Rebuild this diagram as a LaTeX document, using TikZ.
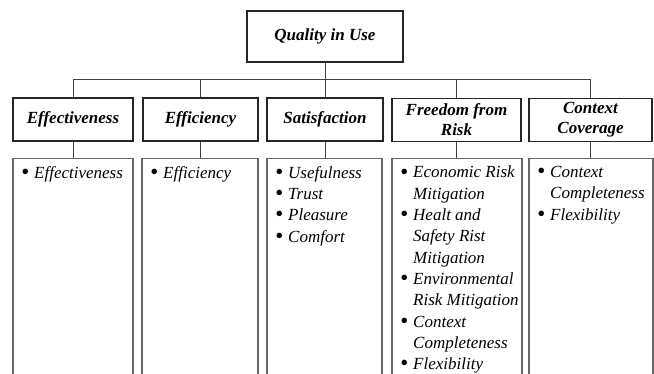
\documentclass[tikz,border=0pt]{standalone}
\usepackage{fontspec}
\setmainfont{Liberation Serif}
\newcommand{\itm}[1]{\makebox[13pt][l]{\raisebox{-1.2pt}{\scalebox{1.35}{\textbullet}}}#1}
\newcommand{\cnt}[1]{\hspace*{13pt}#1}
\begin{document}
\begin{tikzpicture}[x=1pt,y=-1pt,
  topbox/.style={draw=black!85, line width=1.4pt, inner sep=0pt, align=center,
    font=\bfseries\itshape\fontsize{17}{20}\selectfont},
  hbox/.style={topbox, minimum height=43pt},
  lowbox/.style={draw=black!60, line width=1.1pt, anchor=north, minimum height=240pt, inner sep=0pt},
  itemtext/.style={anchor=north west, inner sep=0pt, align=left,
    font=\itshape\fontsize{17}{21.3}\selectfont},
  link/.style={draw=black!75, line width=0.8pt}]
\clip (0,0) rectangle (654,374);
\useasboundingbox (0,0) rectangle (654,374);
% top
\node[topbox, minimum width=156pt, minimum height=51pt] (q) at (325,36.5) {Quality in Use};
\coordinate (bus) at (325,79);
% headers
\node[hbox, minimum width=120pt] (h1) at (73,119.5) {Effectiveness};
\node[hbox, minimum width=115pt] (h2) at (200.5,119.5) {Efficiency};
\node[hbox, minimum width=116pt] (h3) at (325,119.5) {Satisfaction};
\node[hbox, minimum width=129pt] (h4) at (456.5,120) {Freedom from\\Risk};
\node[hbox, minimum width=123pt] (h5) at (590.5,120) {Context\\Coverage};
% lower boxes
\node[lowbox, minimum width=120pt] (l1) at (73,158) {};
\node[lowbox, minimum width=116pt] (l2) at (200,158) {};
\node[lowbox, minimum width=115pt] (l3) at (324.5,158) {};
\node[lowbox, minimum width=130pt] (l4) at (457,158) {};
\node[lowbox, minimum width=124pt] (l5) at (591,158) {};
% texts
\node[itemtext] (t1) at (21,166) {\itm{Effectiveness}};
\node[itemtext] (t2) at (150,166) {\itm{Efficiency}};
\node[itemtext] (t3) at (275,166) {\itm{Usefulness}\\\itm{Trust}\\\itm{Pleasure}\\\itm{Comfort}};
\node[itemtext] (t4) at (400,166) {\itm{Economic Risk}\\\cnt{Mitigation}\\\itm{Healt and}\\\cnt{Safety Rist}\\\cnt{Mitigation}\\\itm{Environmental}\\\cnt{Risk Mitigation}\\\itm{Context}\\\cnt{Completeness}\\\itm{Flexibility}};
\node[itemtext] (t5) at (537,166) {\itm{Context}\\\cnt{Completeness}\\\itm{Flexibility}};
% connectors
\draw[link] (q.south) -- (bus);
\foreach \h in {h1,h2,h3,h4,h5} {\draw[link] (\h.north) |- (bus);}
\foreach \h/\l in {h1/l1,h2/l2,h3/l3,h4/l4,h5/l5} {\draw[link] (\h.south) -- (\h.south |- \l.north);}
\end{tikzpicture}
\end{document}
